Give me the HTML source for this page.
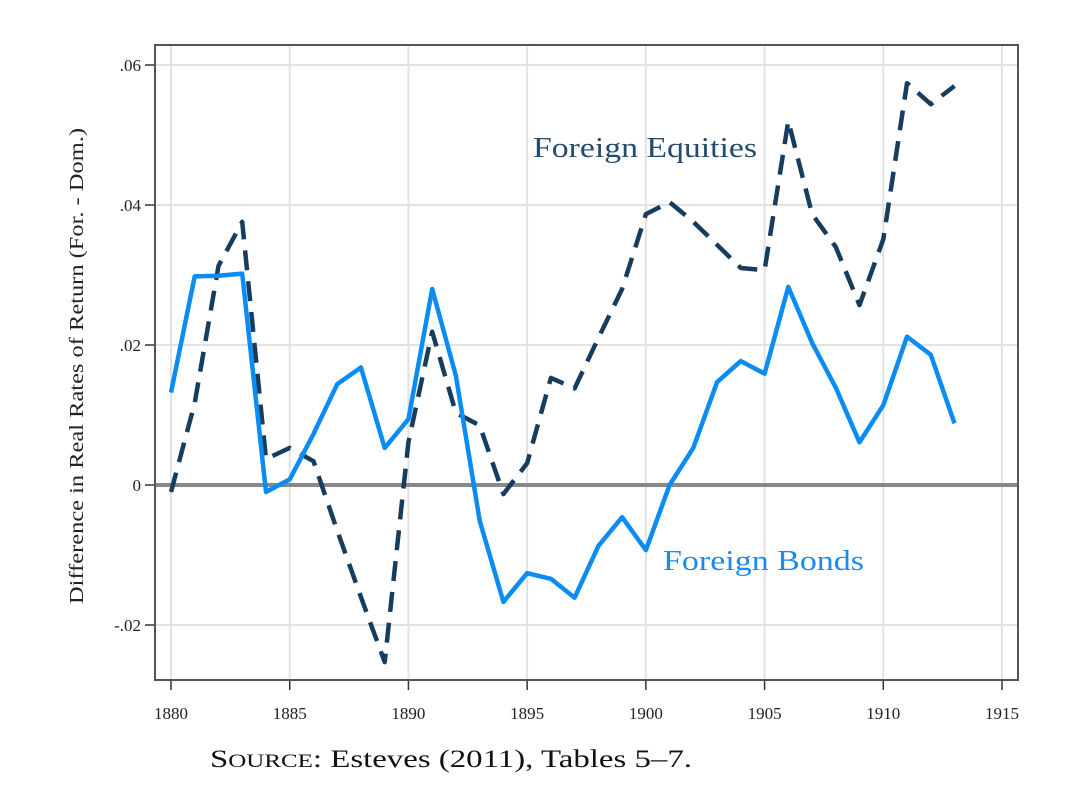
<!DOCTYPE html>
<html><head><meta charset="utf-8"><style>
body{margin:0;background:#fff;width:1072px;height:798px;overflow:hidden}
svg text{font-family:"Liberation Serif",serif}
</style></head><body>
<svg id="chart" width="1072" height="798" viewBox="0 0 1072 798"></svg>
<script>
const years=[1880,1881,1882,1883,1884,1885,1886,1887,1888,1889,1890,1891,1892,1893,1894,1895,1896,1897,1898,1899,1900,1901,1902,1903,1904,1905,1906,1907,1908,1909,1910,1911,1912,1913];
const bonds=[0.0132,0.0298,0.0299,0.0302,-0.001,0.0008,0.0073,0.0144,0.0168,0.0053,0.0094,0.028,0.0156,-0.0051,-0.0167,-0.0126,-0.0134,-0.0161,-0.0087,-0.0046,-0.0093,0.0,0.0053,0.0147,0.0177,0.0159,0.0283,0.0203,0.0139,0.0061,0.0114,0.0212,0.0186,0.0088];
const equities=[-0.001,0.0117,0.0313,0.0376,0.0037,0.0053,0.0034,-0.0065,-0.016,-0.0253,0.0061,0.0219,0.0103,0.0085,-0.0013,0.0031,0.0153,0.0138,0.021,0.028,0.0387,0.0404,0.0376,0.0343,0.031,0.0307,0.052,0.0387,0.034,0.0257,0.0351,0.0574,0.0544,0.057];
const xTicks=[1880,1885,1890,1895,1900,1905,1910,1915];
const yTicks=[-0.02,0,0.02,0.04,0.06];
const yTickLabels=["-.02","0",".02",".04",".06"];
const NS="http://www.w3.org/2000/svg";
const svg=document.getElementById('chart');
const X=v=>171+(v-1880)*(1002-171)/35;
const Y=v=>485-v*7000;
function el(t,a,txt){const e=document.createElementNS(NS,t);for(const k in a)e.setAttribute(k,a[k]);if(txt!==undefined)e.textContent=txt;svg.appendChild(e);return e;}
xTicks.forEach(t=>{const g=el('line',{x1:X(t),x2:X(t),y1:46,y2:679,stroke:'#e2e2e2','stroke-width':2});


const tk=el('line',{x1:X(t),x2:X(t),y1:680,y2:690,stroke:'#333','stroke-width':1.5});


const l=el('text',{x:X(t),y:719,'text-anchor':'middle','font-size':17,fill:'#222'},t);

});
yTicks.forEach((t,i)=>{if(t!==0){const g=el('line',{x1:156,x2:1017,y1:Y(t),y2:Y(t),stroke:'#e2e2e2','stroke-width':2});

}
const tk=el('line',{x1:145,x2:155,y1:Y(t),y2:Y(t),stroke:'#333','stroke-width':1.5});


const l=el('text',{x:141,y:Y(t)+6,'text-anchor':'end','font-size':17,fill:'#222'},yTickLabels[i]);

});
const z=el('line',{x1:156,x2:1017,y1:Y(0),y2:Y(0),stroke:'#888','stroke-width':4});


const fr=el('rect',{x:155,y:45,width:863,height:635,fill:'none',stroke:'#555','stroke-width':2});


function path(vals){return vals.map((v,i)=>(i?'L':'M')+X(years[i]).toFixed(1)+','+Y(v).toFixed(1)).join(' ');}
const eq=el('path',{d:path(equities),fill:'none',stroke:'#173d5e','stroke-width':4.5,'stroke-dasharray':'20 11','stroke-linejoin':'round'});


const bd=el('path',{d:path(bonds),fill:'none',stroke:'#0a8cf2','stroke-width':4.5,'stroke-linejoin':'round'});


const le=el('text',{x:533,y:157,'font-size':29,fill:'#244a6e',textLength:224,lengthAdjust:'spacingAndGlyphs'},'Foreign Equities');


const lb=el('text',{x:663,y:570,'font-size':29,fill:'#1a8af0',textLength:201,lengthAdjust:'spacingAndGlyphs'},'Foreign Bonds');


const yt=el('text',{x:0,y:0,'font-size':20,fill:'#222','text-anchor':'middle',textLength:476,lengthAdjust:'spacingAndGlyphs',transform:'translate(83,366) rotate(-90)'},'Difference in Real Rates of Return (For. - Dom.)');


const src=el('text',{x:210,y:767,'font-size':25,fill:'#111',textLength:482,lengthAdjust:'spacingAndGlyphs'});


src.innerHTML='S<tspan font-size="19">OURCE</tspan>: Esteves (2011), Tables 5–7.';
</script>
</body></html>
